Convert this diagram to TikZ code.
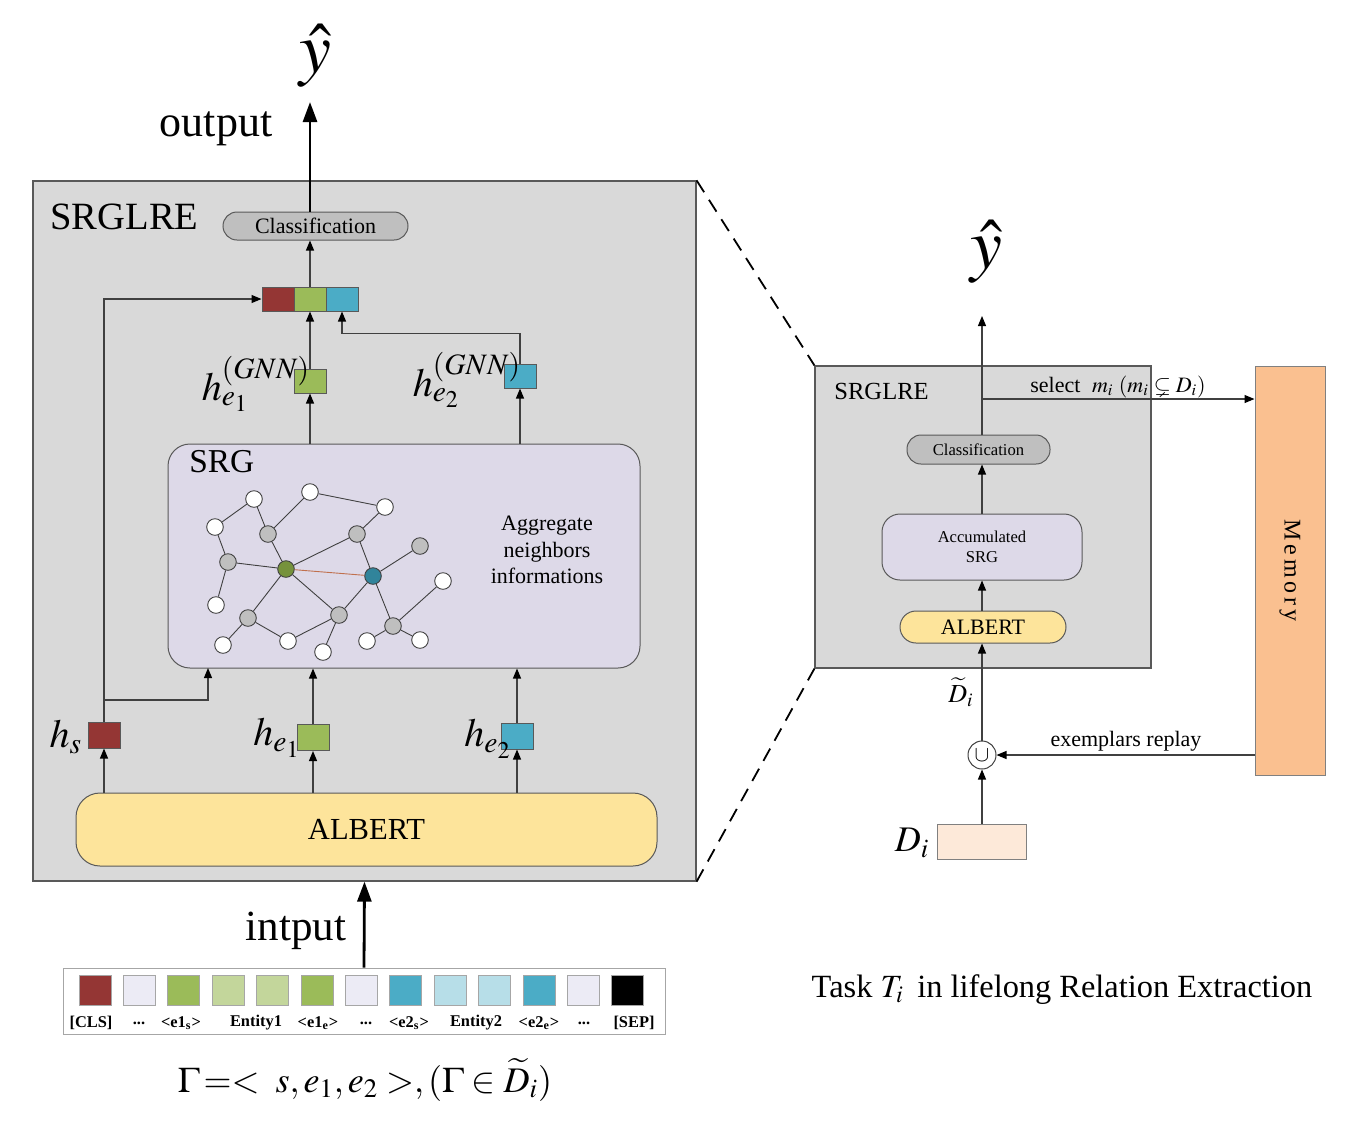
\documentclass[tikz,border=0pt]{standalone}
\usepackage{mathptmx}
\usepackage{amssymb}
\usepackage[no-math]{fontspec}
\setmainfont{Liberation Serif}
\usetikzlibrary{arrows.meta,positioning}
\definecolor{panelgray}{HTML}{D9D9D9}
\definecolor{clsgray}{HTML}{BFBFBF}
\definecolor{srgfill}{HTML}{DDD9E8}
\definecolor{albfill}{HTML}{FDE49B}
\definecolor{memfill}{HTML}{FAC090}
\definecolor{difill}{HTML}{FDE9D9}
\definecolor{cred}{HTML}{943634}
\definecolor{cgreen}{HTML}{9BBB59}
\definecolor{clgreen}{HTML}{C3D69B}
\definecolor{cteal}{HTML}{4BACC6}
\definecolor{clteal}{HTML}{B7DEE8}
\definecolor{clav}{HTML}{ECEBF5}
\definecolor{linegray}{HTML}{404040}
\definecolor{bordergray}{HTML}{595959}
\definecolor{ngreen}{HTML}{76923C}
\definecolor{nteal}{HTML}{31849B}
\definecolor{ngray}{HTML}{BFBFBF}
\definecolor{edgeorange}{HTML}{C0704D}
\tikzset{
  arr/.style={draw=linegray, line width=0.55pt, -{Triangle[length=5pt,width=4pt,color=black]}},
  bigarr/.style={draw=black, line width=1.4pt, -{Triangle[length=10pt,width=7pt]}},
  panel/.style={draw=bordergray, fill=panelgray, line width=0.6pt, inner sep=0pt},
  pill/.style={draw=bordergray, line width=0.5pt, rounded corners=7pt, inner sep=0pt},
  vbox/.style={draw=bordergray, line width=0.5pt, inner sep=0pt, minimum width=16pt, minimum height=12pt},
  tok/.style={draw=gray!70, line width=0.4pt, inner sep=0pt, minimum width=16pt, minimum height=15pt},
  toklab/.style={font=\fontsize{8.2}{9}\selectfont\bfseries},
  gn/.style={circle, draw=linegray, line width=0.45pt, inner sep=0pt, minimum size=8.3pt},
  gw/.style={gn, fill=white},
  gg/.style={gn, fill=ngray},
  ge/.style={draw=linegray, line width=0.45pt},
  lbl/.style={inner sep=0pt}
}
\begin{document}
\begin{tikzpicture}[x=0.5pt,y=-0.5pt]
\useasboundingbox (0,0) rectangle (1345,1121);

% ===== left panel =====
\node[panel, minimum width=331.5pt, minimum height=350pt] (lp) at (364.5,531) {};
\node[lbl, anchor=west, font=\fontsize{19.3}{22}\selectfont] (lpt) at (50,217) {SRGLRE};
\node[pill, fill=clsgray, minimum width=92.5pt, minimum height=14pt, font=\fontsize{11}{13}\selectfont] (cls) at (315.5,226) {Classification};

% concat vector
\node[vbox, fill=cred] (cr) at (278,299) {};
\node[vbox, fill=cgreen] (cg) at (310,299) {};
\node[vbox, fill=cteal] (cb) at (342,299) {};

% GNN outputs
\node[vbox, fill=cgreen] (hg1) at (310,381) {};
\node[vbox, fill=cteal] (hg2) at (520,376) {};
\node[lbl, font=\fontsize{20}{24}\selectfont] (hg1l) at (256,384) {$h_{e_1}^{(GNN)}$};
\node[lbl, font=\fontsize{20}{24}\selectfont] (hg2l) at (467,380) {$h_{e_2}^{(GNN)}$};

% SRG
\node[draw=bordergray, fill=srgfill, line width=0.5pt, rounded corners=11pt, minimum width=236pt, minimum height=112pt, inner sep=0pt] (srg) at (404,556) {};
\node[lbl, anchor=west, font=\fontsize{16.7}{20}\selectfont] (srgt) at (189,462) {SRG};
\node[lbl, align=center, font=\fontsize{11}{13.25}\selectfont] (agg) at (547,550) {Aggregate\\neighbors\\informations};

% graph nodes
\node[gw] (w1) at (254,499) {};
\node[gw] (w2) at (310,492) {};
\node[gw] (w3) at (385,507) {};
\node[gw] (w4) at (215,527) {};
\node[gw] (w5) at (216,605) {};
\node[gw] (w6) at (443,581) {};
\node[gw] (w7) at (223,645) {};
\node[gw] (w8) at (288,641) {};
\node[gw] (w9) at (323,652) {};
\node[gw] (w10) at (367,641) {};
\node[gw] (w11) at (420,640) {};
\node[gg] (g1) at (268,534) {};
\node[gg] (g2) at (357,534) {};
\node[gg] (g3) at (420,546) {};
\node[gg] (g4) at (228,562) {};
\node[gg] (g5) at (248,618) {};
\node[gg] (g6) at (339,615) {};
\node[gg] (g7) at (393,626) {};
\node[gn, fill=ngreen] (cgn) at (286,569) {};
\node[gn, fill=nteal] (ctn) at (373,576) {};
\draw[ge] (w1) -- (w4);
\draw[ge] (w4) -- (g4);
\draw[ge] (g4) -- (cgn);
\draw[ge] (g4) -- (w5);
\draw[ge] (w1) -- (g1);
\draw[ge] (w2) -- (g1);
\draw[ge] (g1) -- (cgn);
\draw[ge] (w2) -- (w3);
\draw[ge] (w3) -- (g2);
\draw[ge] (g2) -- (cgn);
\draw[ge] (g2) -- (ctn);
\draw[draw=edgeorange, line width=0.45pt] (cgn) -- (ctn);
\draw[ge] (ctn) -- (g3);
\draw[ge] (cgn) -- (g5);
\draw[ge] (cgn) -- (g6);
\draw[ge] (ctn) -- (g6);
\draw[ge] (ctn) -- (g7);
\draw[ge] (g5) -- (w7);
\draw[ge] (g5) -- (w8);
\draw[ge] (w8) -- (g6);
\draw[ge] (g6) -- (w9);
\draw[ge] (g7) -- (w10);
\draw[ge] (g7) -- (w11);
\draw[ge] (g7) -- (w6);

% ALBERT
\node[draw=bordergray, fill=albfill, line width=0.5pt, rounded corners=12pt, minimum width=290.5pt, minimum height=36.5pt, inner sep=0pt, font=\fontsize{15.3}{18}\selectfont] (alb) at (366.5,829.5) {ALBERT};

% token-level vectors
\node[vbox, fill=cred, minimum height=13pt] (hs) at (104,735) {};
\node[vbox, fill=cgreen, minimum height=13pt] (he1) at (313,737.5) {};
\node[vbox, fill=cteal, minimum height=13pt] (he2) at (517,736) {};
\node[lbl, font=\fontsize{20}{24}\selectfont] (hsl) at (66,737) {$h_s$};
\node[lbl, font=\fontsize{20}{24}\selectfont] (he1l) at (277,738) {$h_{e_1}$};
\node[lbl, font=\fontsize{20}{24}\selectfont] (he2l) at (488,739) {$h_{e_2}$};

% arrows inside left panel
\draw[arr] (hs.south |- alb.north) -- (hs.south);
\draw[arr] (he1.south |- alb.north) -- (he1.south);
\draw[arr] (he2.south |- alb.north) -- (he2.south);
\coordinate (br) at (104,700);
\coordinate (srgin) at (208,668);
\draw[arr] (br) -| (srgin);
\draw[arr] (hs.north) |- (cr.west);
\draw[arr] (he1.north) -- (he1.north |- srg.south);
\draw[arr] (he2.north) -- (he2.north |- srg.south);
\draw[arr] (hg1.south |- srg.north) -- (hg1.south);
\draw[arr] (hg2.south |- srg.north) -- (hg2.south);
\draw[arr] (hg1.north) -- (cg.south);
\draw[arr] (hg2.north) -- ++(0,-30) -| (cb.south);
\draw[arr] (cg.north) -- (cg.north |- cls.south);

% output
\coordinate (yout) at (310,102);
\draw[bigarr] (cls.north -| yout) -- (yout);
\node[lbl, font=\fontsize{36}{40}\selectfont] (yhat) at (315,56) {$\hat{y}$};
\node[lbl, font=\fontsize{22}{26}\selectfont] (outl) at (216,129) {output};

% input tokens
\node[draw=gray!70, fill=white, line width=0.5pt, minimum width=301pt, minimum height=33pt, inner sep=0pt] (tokrow) at (364,1001) {};
\foreach \c [count=\k from 0] in {cred,clav,cgreen,clgreen,clgreen,cgreen,clav,cteal,clteal,clteal,cteal,clav,black} {
  \node[tok, fill=\c] (t\k) at ({95+44.4*\k},990) {};
}
\node[toklab] (l0) at (91,1023) {[CLS]};
\node[toklab] (l1) at (139,1023) {...};
\node[toklab] (l2) at (181,1023) {<e1\textsubscript{s}>};
\node[toklab] (l3) at (256,1023) {Entity1};
\node[toklab] (l5) at (318,1023) {<e1\textsubscript{e}>};
\node[toklab] (l6) at (366,1023) {...};
\node[toklab] (l7) at (409,1023) {<e2\textsubscript{s}>};
\node[toklab] (l8) at (476,1023) {Entity2};
\node[toklab] (l10) at (539,1023) {<e2\textsubscript{e}>};
\node[toklab] (l11) at (584,1023) {...};
\node[toklab] (l12) at (634,1023) {[SEP]};
\draw[bigarr] (tokrow.north) -- (lp.south);
\node[lbl, font=\fontsize{21.5}{25}\selectfont] (inl) at (296,931) {intput};
\node[lbl, font=\fontsize{18}{22}\selectfont] (form) at (365,1080) {$\Gamma\,{=}{<}\;\; s,e_1,e_2\;{>},(\Gamma\in\widetilde{D}_i)$};

% ===== right panel =====
\node[panel, minimum width=168pt, minimum height=151pt] (rp) at (983,517) {};
\draw[black, line width=0.9pt, dash pattern=on 7pt off 4.5pt] (lp.north east) -- (rp.north west);
\draw[black, line width=0.9pt, dash pattern=on 7pt off 4.5pt] (lp.south east) -- (rp.south west);
\node[lbl, anchor=west, font=\fontsize{12.3}{14}\selectfont] (rpt) at (834,391) {SRGLRE};
\node[pill, fill=clsgray, minimum width=71.5pt, minimum height=14.5pt, font=\fontsize{8.3}{10}\selectfont] (cls2) at (978.5,449.5) {Classification};
\node[draw=bordergray, fill=srgfill, line width=0.5pt, rounded corners=9pt, minimum width=100pt, minimum height=33pt, inner sep=0pt, align=center, font=\fontsize{8.3}{10}\selectfont] (acc) at (982,547) {Accumulated\\SRG};
\node[pill, fill=albfill, minimum width=83pt, minimum height=16pt, rounded corners=8pt, font=\fontsize{11}{13}\selectfont] (alb2) at (983,627) {ALBERT};
\draw[arr] (alb2.north -| acc.south) -- (acc.south);
\draw[arr] (acc.north) -- (acc.north |- cls2.south);
\coordinate (ytop) at (982,316);
\draw[arr] (cls2.north -| ytop) -- (ytop);
\node[lbl, font=\fontsize{36}{40}\selectfont] (yhat2) at (986,252) {$\hat{y}$};

% memory
\node[draw=gray, fill=memfill, line width=0.5pt, minimum width=35pt, minimum height=204.5pt, inner sep=0pt] (mem) at (1290,570.5) {};
\node[lbl, rotate=-90, font=\fontsize{12}{14}\selectfont] (meml) at (mem.center) {M\,e\,m\,o\,r\,y};
\coordinate (sel) at (982,399);
\draw[arr] (sel) -- (sel -| mem.west);
\node[lbl, font=\fontsize{11}{13}\selectfont] (sell) at (1118,387) {select\; $m_i$ $(m_i \subsetneq D_i)$};

% union and data
\node[circle, draw=linegray, fill=white, line width=0.5pt, minimum size=14pt, inner sep=0pt, font=\fontsize{11}{12}\selectfont] (un) at (982,755) {$\cup$};
\draw[arr] (un -| mem.west) -- (un.east);
\node[lbl, font=\fontsize{11}{13}\selectfont] (exl) at (1126,741) {exemplars replay};
\draw[arr] (un.north) -- (un.north |- alb2.south);
\node[lbl, font=\fontsize{13}{15}\selectfont] (dtl) at (961,692) {$\widetilde{D}_i$};
\node[draw=gray, fill=difill, line width=0.5pt, minimum width=44.5pt, minimum height=17.5pt, inner sep=0pt] (di) at (981.5,841.5) {};
\draw[arr] (di.north -| un) -- (un.south);
\node[lbl, font=\fontsize{18}{22}\selectfont] (dil) at (912,843) {$D_i$};
\node[lbl, font=\fontsize{16.2}{19}\selectfont] (task) at (1062,990) {Task $T_i$\, in lifelong Relation Extraction};
\end{tikzpicture}
\end{document}
